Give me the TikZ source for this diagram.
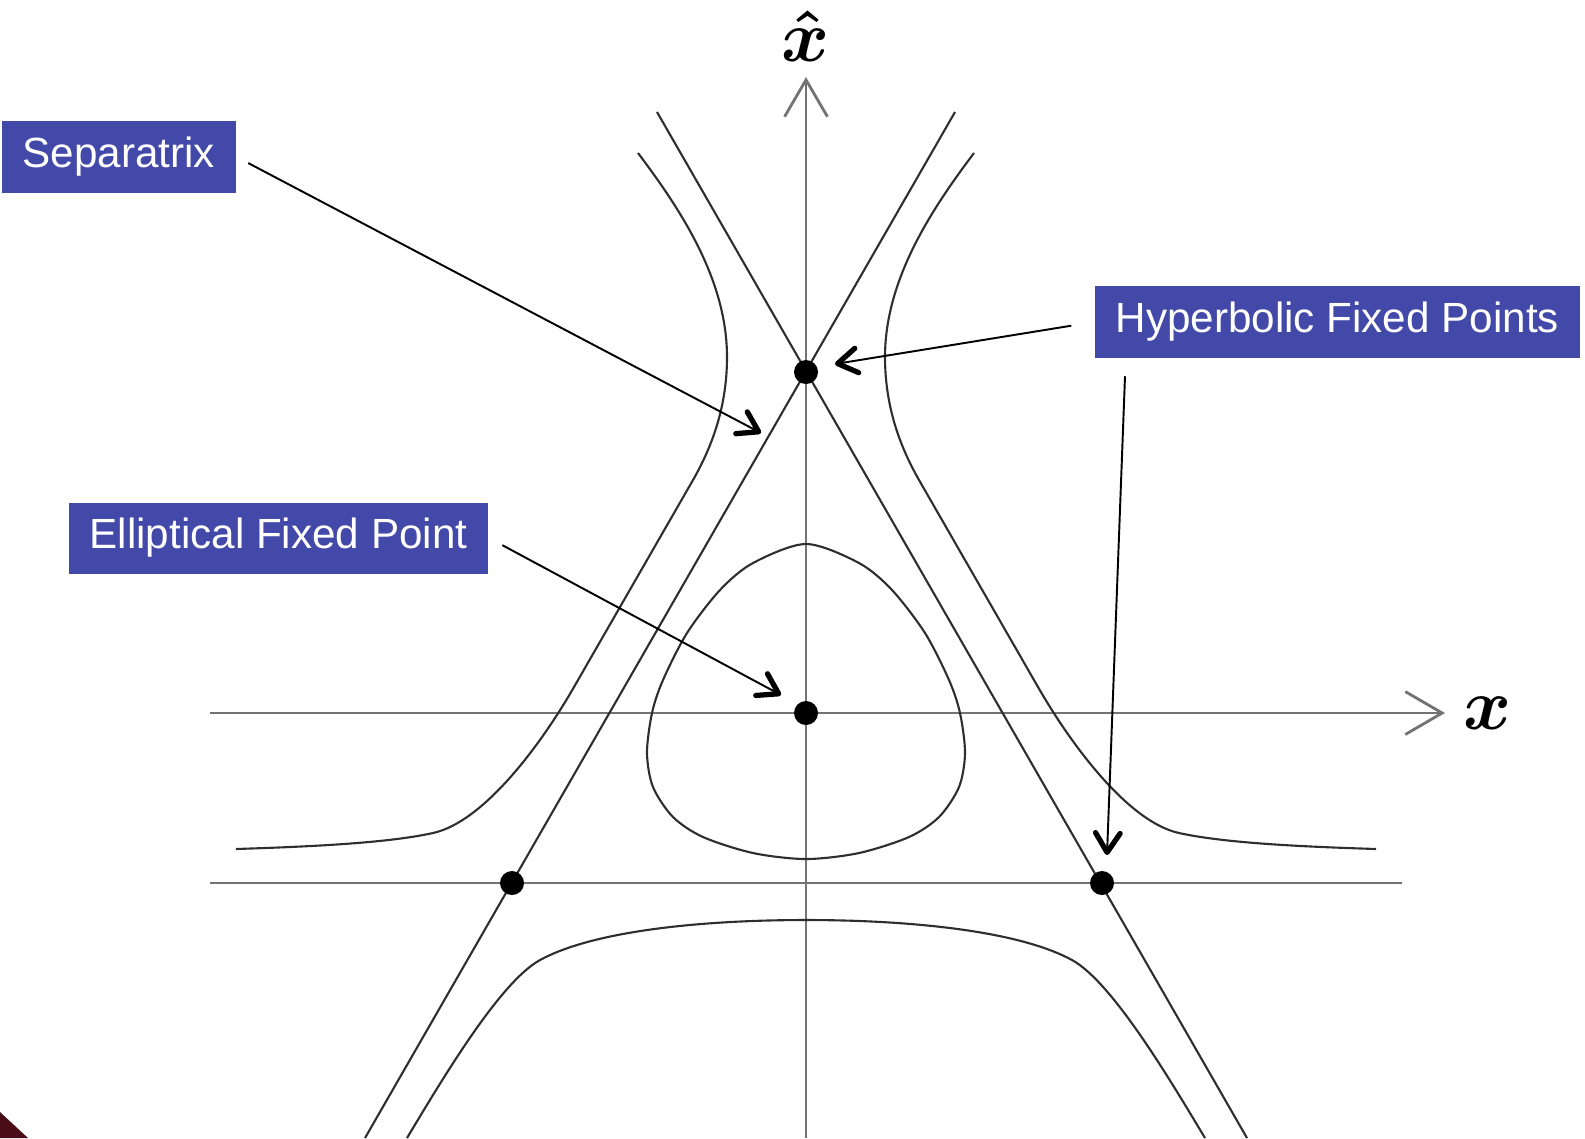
\documentclass[tikz,border=0pt]{standalone}
\usepackage{amsmath}
\usepackage{fontspec}
\newfontfamily\tagfont{Liberation Sans}
\usepackage{xcolor}
\definecolor{tagBlue}{HTML}{4349A9}
\definecolor{axisGray}{gray}{0.45}
\definecolor{curveGray}{gray}{0.18}
\definecolor{cornerRed}{HTML}{4A0C16}
\usepackage{tikz}
\usetikzlibrary{arrows.meta}

\tikzset{
  tag/.style={fill=tagBlue, text=white, font=\tagfont\fontsize{12}{14}\selectfont,
    inner xsep=0.21cm, minimum height=0.71cm},
  axisline/.style={axisGray, line width=0.8pt},
  curve/.style={curveGray, line width=0.6pt},
  fixpt/.style={circle, fill=black, inner sep=0pt, minimum size=0.24cm},
  varlabel/.style={font=\fontsize{22}{26}\selectfont},
  callout/.style={black, line width=0.55pt,
    -{Straight Barb[length=5.5pt, width=7pt, line width=1.5pt, round]}},
}

\begin{document}
\begin{tikzpicture}[x=0.01cm, y=-0.01cm]
  \useasboundingbox (0,0) rectangle (1585,1138);
  \fill[cornerRed] (0,1112) -- (28,1138) -- (0,1138) -- cycle;
  % ---- axes and the base line ----
  \draw[axisline, -{Straight Barb[length=10.5pt, width=12.2pt]}] (210,713) -- (1445,713);
  \draw[axisline, -{Straight Barb[length=10.5pt, width=12.2pt]}] (806,1138) -- (806,77);
  \draw[axisline] (210,883) -- (1402,883);
  \node[varlabel] (xlab) at (1488,713) {$\boldsymbol{x}$};
  \node[varlabel] (xhatlab) at (806,36) {$\boldsymbol{\hat{x}}$};
  % ---- separatrix: the two slanted lines ----
  \draw[curve] (365,1138) -- (955,112);
  \draw[curve] (1247,1138) -- (657,112);
  % ---- level curves, mirrored about the vertical axis ----
  \begin{scope}[shift={(806,0)}]
    \foreach \s in {1,-1} {
      % outer branch
      \draw[curve, xscale=\s] (-168,153) .. controls (-125,210) and (-79,280) .. (-79,357)
        .. controls (-79,405) and (-93,445) .. (-113,480) -- (-232,687)
        .. controls (-266.5,747) and (-323,822) .. (-373,833)
        .. controls (-423,844) and (-510,847) .. (-570,849);
      % bottom branch
      \draw[curve, xscale=\s] (-399,1138) .. controls (-363,1078) and (-306,982) .. (-266,960)
        .. controls (-211,930) and (-100,920) .. (0,920);
    }
    % closed orbit round the centre
    \draw[curve] plot[smooth cycle] coordinates {
      (0,544) (53,563) (86,590) (119,633) (143,680) (154,713) (159,753)
      (153,787) (133,817) (103,837) (53,853) (0,859) (-53,853) (-103,837)
      (-133,817) (-153,787) (-159,753) (-154,713) (-143,680) (-119,633)
      (-86,590) (-53,563)};
  \end{scope}
  % ---- fixed points ----
  \foreach \n/\px/\py in {E/806/713, H1/806/372, H2/512/883, H3/1102/883}
    \node[fixpt] (\n) at (\px,\py) {};
  % ---- labels and call-outs ----
  \node[tag, anchor=west] (sep) at (1,157) {Separatrix};
  \node[tag, anchor=west] (ell) at (68,538) {Elliptical Fixed Point};
  \node[tag, anchor=west] (hyp) at (1094,322) {Hyperbolic Fixed Points};
  \coordinate (sepTip) at (761,433);
  \coordinate (ellTip) at (781,695);
  \coordinate (hypTipA) at (835,364);
  \coordinate (hypTipB) at (1107,855);
  \draw[callout, shorten <=0.13cm] (sep.east) -- (sepTip);
  \draw[callout, shorten <=0.15cm] (ell.east) -- (ellTip);
  \draw[callout, shorten <=0.23cm] (hyp.west) -- (hypTipA);
  \draw[callout] (hyp.south west) ++(31,18) -- (hypTipB);
\end{tikzpicture}
\end{document}
